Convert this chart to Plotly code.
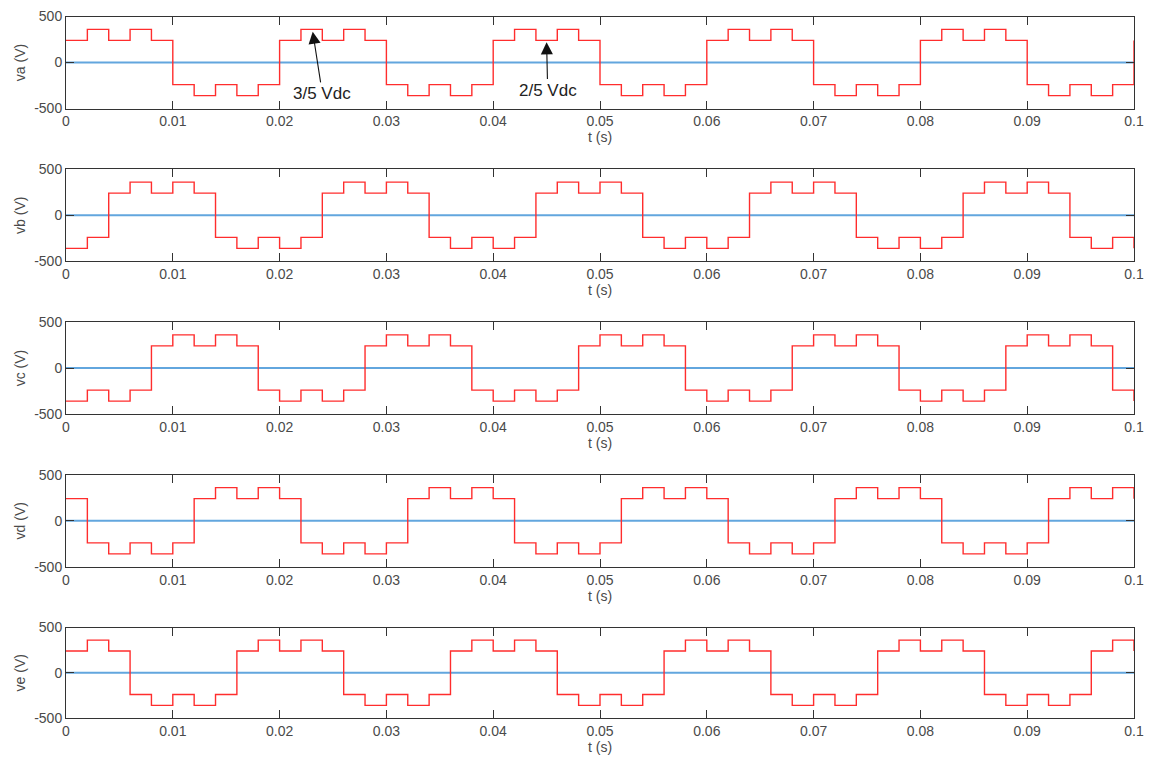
import plotly.graph_objects as go

# time instants of the 2 ms steps (s)
t_steps = [0.000, 0.002, 0.004, 0.006, 0.008, 0.010, 0.012, 0.014, 0.016, 0.018,
           0.020, 0.022, 0.024, 0.026, 0.028, 0.030, 0.032, 0.034, 0.036, 0.038,
           0.040, 0.042, 0.044, 0.046, 0.048, 0.050, 0.052, 0.054, 0.056, 0.058,
           0.060, 0.062, 0.064, 0.066, 0.068, 0.070, 0.072, 0.074, 0.076, 0.078,
           0.080, 0.082, 0.084, 0.086, 0.088, 0.090, 0.092, 0.094, 0.096, 0.098,
           0.100]

va = [240, 360, 240, 360, 240, -240, -360, -240, -360, -240,
      240, 360, 240, 360, 240, -240, -360, -240, -360, -240,
      240, 360, 240, 360, 240, -240, -360, -240, -360, -240,
      240, 360, 240, 360, 240, -240, -360, -240, -360, -240,
      240, 360, 240, 360, 240, -240, -360, -240, -360, -240,
      240]
vb = [-360, -240, 240, 360, 240, 360, 240, -240, -360, -240,
      -360, -240, 240, 360, 240, 360, 240, -240, -360, -240,
      -360, -240, 240, 360, 240, 360, 240, -240, -360, -240,
      -360, -240, 240, 360, 240, 360, 240, -240, -360, -240,
      -360, -240, 240, 360, 240, 360, 240, -240, -360, -240,
      -360]
vc = [-360, -240, -360, -240, 240, 360, 240, 360, 240, -240,
      -360, -240, -360, -240, 240, 360, 240, 360, 240, -240,
      -360, -240, -360, -240, 240, 360, 240, 360, 240, -240,
      -360, -240, -360, -240, 240, 360, 240, 360, 240, -240,
      -360, -240, -360, -240, 240, 360, 240, 360, 240, -240,
      -360]
vd = [240, -240, -360, -240, -360, -240, 240, 360, 240, 360,
      240, -240, -360, -240, -360, -240, 240, 360, 240, 360,
      240, -240, -360, -240, -360, -240, 240, 360, 240, 360,
      240, -240, -360, -240, -360, -240, 240, 360, 240, 360,
      240, -240, -360, -240, -360, -240, 240, 360, 240, 360,
      240]
ve = [240, 360, 240, -240, -360, -240, -360, -240, 240, 360,
      240, 360, 240, -240, -360, -240, -360, -240, 240, 360,
      240, 360, 240, -240, -360, -240, -360, -240, 240, 360,
      240, 360, 240, -240, -360, -240, -360, -240, 240, 360,
      240, 360, 240, -240, -360, -240, -360, -240, 240, 360,
      240]

zero_t = [0.0, 0.1]
zero_v = [0, 0]

series = [("va (V)", va), ("vb (V)", vb), ("vc (V)", vc), ("vd (V)", vd), ("ve (V)", ve)]
x_ticks = [0, 0.01, 0.02, 0.03, 0.04, 0.05, 0.06, 0.07, 0.08, 0.09, 0.1]
x_ticktext = ["0", "0.01", "0.02", "0.03", "0.04", "0.05", "0.06", "0.07", "0.08", "0.09", "0.1"]
y_ticks = [-500, 0, 500]
y_ticktext = ["-500", "0", "500"]

W, H = 1151, 765
ML, MR, MT, MB = 66, 17, 16, 47
PH = H - MT - MB
top0, row_h, row_step = 16.5, 92.0, 152.75

AX = "#333333"
TXT = "#4a4a4a"
FONT = "Liberation Sans, Arial, sans-serif"
FS = 14

fig = go.Figure()
layout = dict(
    width=W, height=H,
    margin=dict(l=ML, r=MR, t=MT, b=MB, pad=0),
    paper_bgcolor="white", plot_bgcolor="white",
    showlegend=False,
    font=dict(family=FONT, size=FS, color=TXT),
)

for i, (name, vals) in enumerate(series):
    n = i + 1
    xa = "x" if n == 1 else f"x{n}"
    ya = "y" if n == 1 else f"y{n}"
    fig.add_trace(go.Scatter(x=zero_t, y=zero_v, mode="lines",
                             line=dict(color="rgb(98,166,222)", width=2.2),
                             xaxis=xa, yaxis=ya, hoverinfo="skip"))
    fig.add_trace(go.Scatter(x=t_steps, y=vals, mode="lines",
                             line=dict(color="rgb(255,45,45)", width=1.4, shape="hv"),
                             xaxis=xa, yaxis=ya))
    top = top0 + i * row_step
    bot = top + row_h
    ydom = [max(0.0, 1 - (bot - MT) / PH), min(1.0, 1 - (top - MT) / PH)]
    layout[f"xaxis{n}"] = dict(
        domain=[0, 1], range=[0, 0.1], anchor=ya,
        tickmode="array", tickvals=x_ticks, ticktext=x_ticktext,
        ticks="inside", ticklen=8, tickcolor=AX, tickwidth=1,
        showline=True, linecolor=AX, linewidth=1, mirror="ticks",
        showgrid=False, zeroline=False, automargin=False,
        tickfont=dict(size=FS, color=TXT),
        title=dict(text="t (s)", font=dict(size=FS, color=TXT), standoff=3),
    )
    layout[f"yaxis{n}"] = dict(
        domain=ydom, range=[-500, 500], anchor=xa,
        tickmode="array", tickvals=y_ticks, ticktext=y_ticktext,
        ticks="inside", ticklen=8, tickcolor=AX, tickwidth=1,
        showline=True, linecolor=AX, linewidth=1, mirror="ticks",
        showgrid=False, zeroline=False, automargin=False,
        tickfont=dict(size=FS, color=TXT),
        title=dict(text=name, font=dict(size=FS, color=TXT), standoff=5),
    )

fig.update_layout(**layout)

fig.add_annotation(x=0.0231, y=335, xref="x", yref="y",
                   ax=0.0240, ay=-335, axref="x", ayref="y",
                   text="3/5 Vdc", showarrow=True, arrowhead=2, arrowsize=2.2,
                   arrowwidth=1.1, arrowcolor="#111111", standoff=0,
                   font=dict(size=17, color="#222222"))
fig.add_annotation(x=0.0450, y=220, xref="x", yref="y",
                   ax=0.0451, ay=-300, axref="x", ayref="y",
                   text="2/5 Vdc", showarrow=True, arrowhead=2, arrowsize=2.2,
                   arrowwidth=1.1, arrowcolor="#111111", standoff=0,
                   font=dict(size=17, color="#222222"))

fig.write_html("out.html")
